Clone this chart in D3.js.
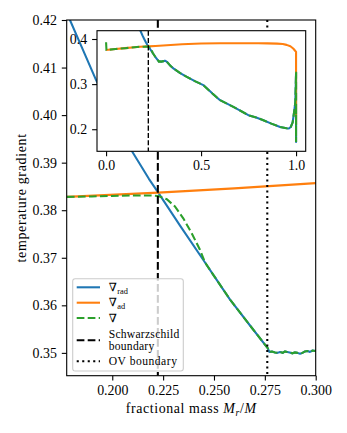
<!DOCTYPE html>
<html>
<head>
<meta charset="utf-8">
<script src="https://cdn.jsdelivr.net/npm/d3@7"></script>
<style>
  body { margin: 0; background: #fff; }
  svg { display: block; }
  text { font-family: "Liberation Serif", "DejaVu Serif", serif; fill: #000; }
</style>
</head>
<body>
<script>
// tick labels
var xTicks = [0.200, 0.225, 0.250, 0.275, 0.300];
var yTicks = [0.35, 0.36, 0.37, 0.38, 0.39, 0.40, 0.41, 0.42];
var insetXTicks = [0.0, 0.5, 1.0];
var insetYTicks = [0.2, 0.3, 0.4];

// adiabatic gradient
var adMass = [0.000, 0.050, 0.100, 0.150, 0.1776, 0.2226, 0.2600, 0.3000, 0.4000, 0.5000, 0.6000,
  0.7000, 0.8000, 0.8500, 0.9000, 0.9300, 0.9500, 0.9700, 0.9850, 0.9950, 1.0000, 1.0000];
var adGrad = [0.3757, 0.3778, 0.3798, 0.3817, 0.3828, 0.3837, 0.3846, 0.3857, 0.3885, 0.3900, 0.3905,
  0.3907, 0.3906, 0.3903, 0.3897, 0.3888, 0.3870, 0.3840, 0.3790, 0.3740, 0.3715, 0.2100];

// radiative gradient inside the core (above the plot top further in)
var radMass = [0.1700, 0.1792, 0.1850, 0.1920, 0.2000, 0.2100, 0.2180, 0.2226, 0.2334];
var radGrad = [0.4297, 0.4200, 0.4143, 0.4074, 0.4004, 0.3922, 0.3866, 0.3837, 0.3767];

// actual gradient in the core and overshoot region
var coreMass = [0.000, 0.002, 0.050, 0.100, 0.150, 0.1776, 0.1900, 0.2000, 0.2100, 0.2186, 0.2226,
  0.2268, 0.2308, 0.2349, 0.2390, 0.2431];
var coreGrad = [0.3927, 0.3757, 0.3777, 0.3797, 0.3816, 0.3828, 0.3829, 0.3830, 0.3831, 0.3831, 0.3830,
  0.3823, 0.3808, 0.3783, 0.3752, 0.3717];

// envelope, where grad = grad_rad
var envMass = [0.2456, 0.2500, 0.2579, 0.2680, 0.2764, 0.2772, 0.2785, 0.2800, 0.2812, 0.2825, 0.2838,
  0.2849, 0.2860, 0.2872, 0.2885, 0.2898, 0.2910, 0.2923, 0.2935, 0.2947, 0.2960, 0.2972, 0.2985,
  0.2997, 0.3010, 0.306, 0.312, 0.320, 0.340, 0.354, 0.390, 0.425, 0.470, 0.512, 0.560, 0.600,
  0.670, 0.749, 0.790, 0.828, 0.870, 0.916, 0.950, 0.962, 0.972, 0.982, 0.991, 0.996, 1.000, 1.000, 1.000];
var envGrad = [0.3690, 0.3662, 0.3612, 0.3556, 0.3510, 0.3502, 0.3503, 0.3501, 0.3500, 0.3502, 0.3500,
  0.3503, 0.3502, 0.3501, 0.3499, 0.3501, 0.3500, 0.3498, 0.3500, 0.3503, 0.3504, 0.3502, 0.3505,
  0.3504, 0.3506, 0.3515, 0.3518, 0.3495, 0.3400, 0.3349, 0.3245, 0.3160, 0.3060, 0.2978, 0.2790, 0.2644,
  0.2496, 0.2311, 0.2260, 0.2200, 0.2125, 0.2051, 0.2020, 0.2016, 0.2050, 0.2150, 0.2422, 0.2600, 0.3273, 0.1718, 0.2500];

var schwarzschild = 0.2224;
var ovBoundary = 0.2762;

var legendLabels = [["\u2207", "rad"], ["\u2207", "ad"], ["\u2207", ""], ["Schwarzschild", "boundary"], ["OV boundary"]];

var blue = "#1f77b4", orange = "#ff7f0e", green = "#2ca02c";
var lw = 2.08, tick = 4.9, fs = 13.9;

var W = 347, H = 433;
var box = {left: 66.7, right: 315.7, top: 20, bottom: 375.7};
var ibox = {left: 97, right: 305.7, top: 30.7, bottom: 151.3};

var svg = d3.select("body").append("svg")
    .attr("width", W)
    .attr("height", H);

var x = d3.scaleLinear().domain([0.1776, 0.300]).range([box.left, box.right]);
var y = d3.scaleLinear().domain([0.3452, 0.42]).range([box.bottom, box.top]);
var xi = d3.scaleLinear().domain([-0.0478, 1.0507]).range([ibox.left, ibox.right]);
var yi = d3.scaleLinear().domain([0.1511, 0.4184]).range([ibox.bottom, ibox.top]);

var radAll = d3.zip(radMass.concat(envMass), radGrad.concat(envGrad));
var totAll = d3.zip(coreMass.concat(envMass), coreGrad.concat(envGrad));
var adAll = d3.zip(adMass, adGrad);

var defs = svg.append("defs");
defs.append("clipPath").attr("id", "clipMain").append("rect")
    .attr("x", box.left).attr("y", box.top)
    .attr("width", box.right - box.left).attr("height", box.bottom - box.top);
defs.append("clipPath").attr("id", "clipInset").append("rect")
    .attr("x", ibox.left).attr("y", ibox.top)
    .attr("width", ibox.right - ibox.left).attr("height", ibox.bottom - ibox.top);

function drawPanel(g, sx, sy, bx, clipId, vlines) {
  var line = d3.line().x(function(d) { return sx(d[0]); }).y(function(d) { return sy(d[1]); });
  var plot = g.append("g").attr("clip-path", "url(#" + clipId + ")");
  plot.append("path").datum(radAll).attr("d", line)
      .attr("fill", "none").attr("stroke", blue).attr("stroke-width", lw).attr("stroke-linejoin", "round");
  plot.append("path").datum(adAll).attr("d", line)
      .attr("fill", "none").attr("stroke", orange).attr("stroke-width", lw).attr("stroke-linejoin", "round");
  plot.append("path").datum(totAll).attr("d", line)
      .attr("fill", "none").attr("stroke", green).attr("stroke-width", lw)
      .attr("stroke-dasharray", "7.7,3.3");
  vlines.forEach(function(v) {
    plot.append("line")
        .attr("x1", sx(v.at)).attr("x2", sx(v.at))
        .attr("y1", bx.top).attr("y2", bx.bottom)
        .attr("stroke", "#000").attr("stroke-width", v.w)
        .attr("stroke-dasharray", v.dash);
  });
}

function drawAxes(g, sx, sy, bx, xt, yt, xf, yf) {
  var xa = g.append("g").attr("transform", "translate(0," + bx.bottom + ")")
      .call(d3.axisBottom(sx).tickValues(xt).tickFormat(d3.format(xf)).tickSize(tick).tickPadding(4.4));
  var ya = g.append("g").attr("transform", "translate(" + bx.left + ",0)")
      .call(d3.axisLeft(sy).tickValues(yt).tickFormat(d3.format(yf)).tickSize(tick).tickPadding(4.9));
  [xa, ya].forEach(function(a) {
    a.select(".domain").remove();
    a.selectAll(".tick line").attr("stroke", "#000").attr("stroke-width", 1.1);
    a.selectAll("text").attr("font-family", "Liberation Serif, DejaVu Serif, serif")
        .attr("font-size", fs).attr("fill", "#000");
  });
  g.append("rect")
      .attr("x", bx.left).attr("y", bx.top)
      .attr("width", bx.right - bx.left).attr("height", bx.bottom - bx.top)
      .attr("fill", "none").attr("stroke", "#000").attr("stroke-width", 1.1);
}

// main panel
var main = svg.append("g");
drawPanel(main, x, y, box, "clipMain", [
  {at: schwarzschild, w: lw, dash: "7.7,3.3"},
  {at: ovBoundary, w: lw, dash: "2.1,3.4"}
]);
drawAxes(main, x, y, box, xTicks, yTicks, ".3f", ".2f");

main.append("text")
    .attr("transform", "translate(21.5," + ((box.top + box.bottom) / 2) + ") rotate(-90)")
    .attr("text-anchor", "middle").attr("dy", "0.32em")
    .attr("font-size", fs).attr("letter-spacing", 0.7)
    .text("temperature gradient");

var xl = main.append("text")
    .attr("x", (box.left + box.right) / 2).attr("y", 413)
    .attr("text-anchor", "middle").attr("font-size", fs).attr("letter-spacing", 0.6);
xl.append("tspan").text("fractional mass ");
xl.append("tspan").attr("font-style", "italic").text("M");
xl.append("tspan").attr("font-style", "italic").attr("font-size", fs * 0.7).attr("dy", 2.5).text("r");
xl.append("tspan").attr("dy", -2.5).text("/");
xl.append("tspan").attr("font-style", "italic").text("M");

// legend
var lg = main.append("g").attr("transform", "translate(72.7,278.7)");
lg.append("rect")
    .attr("width", 110.6).attr("height", 92.3).attr("rx", 2.5)
    .attr("fill", "#fff").attr("fill-opacity", 0.8)
    .attr("stroke", "#cccccc").attr("stroke-width", 1.1);
var lfs = 11.6;
var entries = [
  {y: 8.6, color: blue, dash: null},
  {y: 24, color: orange, dash: null},
  {y: 39.3, color: green, dash: "7.7,3.3"},
  {y: 61.6, color: "#000", dash: "7.7,3.3"},
  {y: 82.6, color: "#000", dash: "2.1,3.4"}
];
entries.forEach(function(e, i) {
  lg.append("line")
      .attr("x1", 4).attr("x2", 27.3).attr("y1", e.y).attr("y2", e.y)
      .attr("stroke", e.color).attr("stroke-width", lw)
      .attr("stroke-dasharray", e.dash);
  var lab = legendLabels[i];
  if (i < 3) {
    var t = lg.append("text").attr("x", 36).attr("y", e.y).attr("dy", "0.32em").attr("font-size", lfs);
    t.append("tspan").attr("font-family", "DejaVu Serif, serif").text(lab[0]);
    if (lab[1]) t.append("tspan").attr("font-size", lfs * 0.72).attr("dy", 2.6).attr("dx", 0.5).text(lab[1]);
  } else if (lab.length === 2) {
    lg.append("text").attr("x", 36).attr("y", e.y - 6.3).attr("dy", "0.32em")
        .attr("font-size", lfs).attr("letter-spacing", 0.25).text(lab[0]);
    lg.append("text").attr("x", 36).attr("y", e.y + 6.1).attr("dy", "0.32em")
        .attr("font-size", lfs).attr("letter-spacing", 0.25).text(lab[1]);
  } else {
    lg.append("text").attr("x", 36).attr("y", e.y).attr("dy", "0.32em")
        .attr("font-size", lfs).attr("letter-spacing", 0.5).text(lab[0]);
  }
});

// inset
var inset = svg.append("g");
inset.append("rect")
    .attr("x", ibox.left).attr("y", ibox.top)
    .attr("width", ibox.right - ibox.left).attr("height", ibox.bottom - ibox.top)
    .attr("fill", "#fff");
drawPanel(inset, xi, yi, ibox, "clipInset", [
  {at: schwarzschild, w: 1.4, dash: "5.1,2.2"}
]);
drawAxes(inset, xi, yi, ibox, insetXTicks, insetYTicks, ".1f", ".1f");
</script>
</body>
</html>
